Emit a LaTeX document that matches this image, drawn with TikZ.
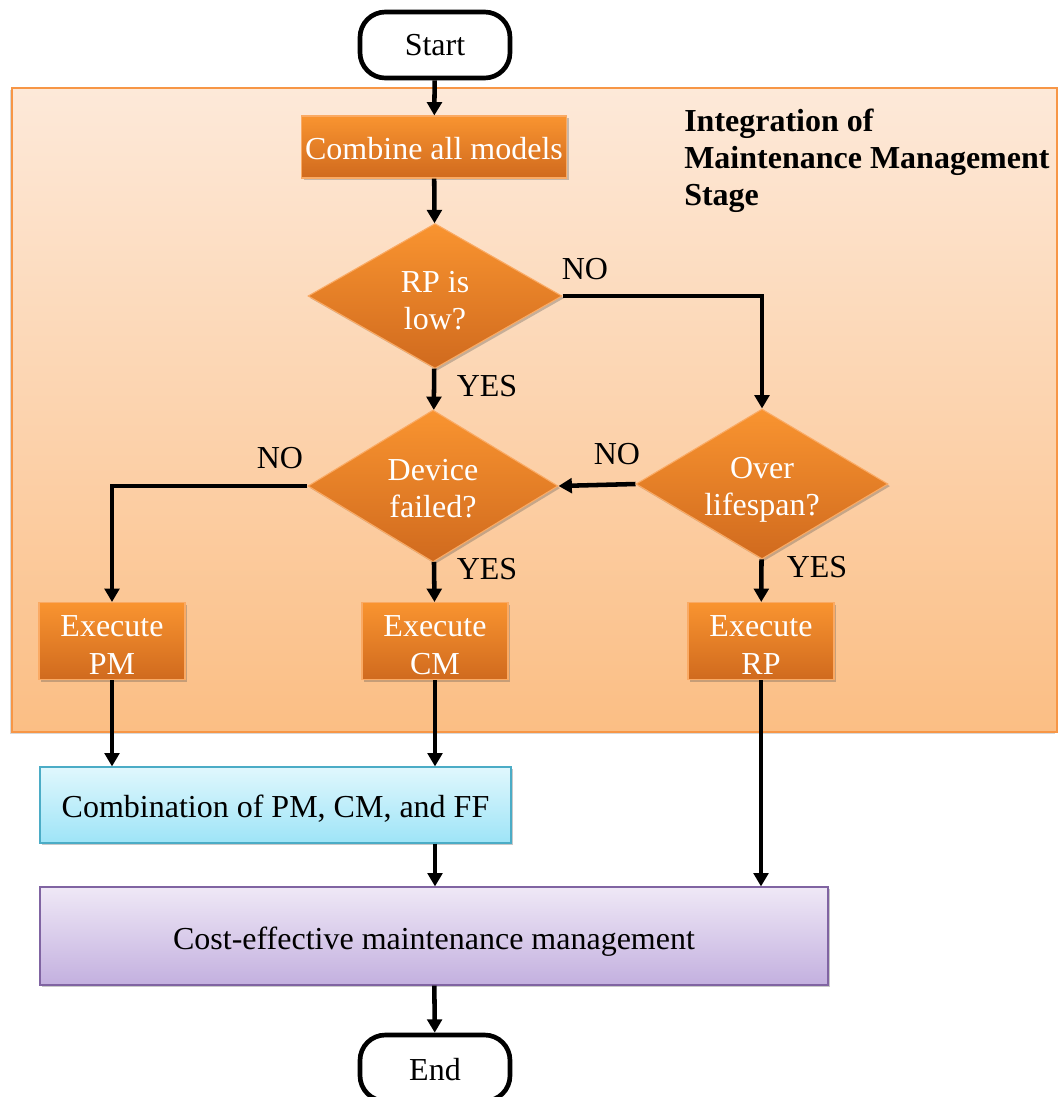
\documentclass[tikz,border=0pt]{standalone}
\usepackage{fontspec}
\setmainfont{Liberation Serif}
\usetikzlibrary{shapes.geometric,arrows.meta,shadows,calc}

\definecolor{bgtop}{RGB}{253,233,217}
\definecolor{bgbot}{RGB}{251,190,132}
\definecolor{bgline}{RGB}{247,150,70}
\definecolor{ortop}{RGB}{249,148,48}
\definecolor{orbot}{RGB}{208,106,30}
\definecolor{orline}{RGB}{250,170,100}
\definecolor{cytop}{RGB}{224,247,253}
\definecolor{cybot}{RGB}{158,228,247}
\definecolor{cyline}{RGB}{75,172,198}
\definecolor{pptop}{RGB}{239,232,246}
\definecolor{ppbot}{RGB}{195,176,223}
\definecolor{ppline}{RGB}{128,100,162}

% invisible strut that sets the height of a text's first line
\newcommand\lineup[1]{\rule{0pt}{#1}}

\tikzset{
  txt/.style={font=\fontsize{24pt}{28pt}\selectfont},
  terminal/.style={txt, draw=black, line width=3.5pt, fill=white, rounded corners=19pt,
    minimum width=112.5pt, minimum height=49.5pt, inner sep=0pt},
  shade/.style={drop shadow={shadow xshift=1.6pt, shadow yshift=-1.6pt, opacity=0.3, fill=black!70}},
  orangebox/.style={txt, shade, text=white, top color=ortop, bottom color=orbot,
    draw=orline, line width=0.8pt, align=center, inner sep=0pt},
  orangediamond/.style={orangebox, diamond, aspect=1.7},
  cyanbox/.style={txt, shade, top color=cytop, bottom color=cybot, draw=cyline,
    line width=0.9pt, align=center, inner sep=0pt},
  purplebox/.style={txt, shade, top color=pptop, bottom color=ppbot, draw=ppline,
    line width=0.9pt, align=center, inner sep=0pt},
  flow/.style={line width=3.4pt, -{Triangle[width=11pt,length=10pt]}},
  lbl/.style={txt, inner sep=0pt}
}

\begin{document}
\begin{tikzpicture}[x=0.75pt, y=-0.75pt]
\useasboundingbox (0,0) rectangle (1059,1097);

% stage background
\path[drop shadow={shadow xshift=-1.6pt, shadow yshift=-1.6pt, opacity=0.25, fill=black!60},
  top color=bgtop, bottom color=bgbot, draw=bgline, line width=1pt]
  (12,88) rectangle (1057,732);
\node[txt, font=\fontsize{24pt}{27.8pt}\selectfont\bfseries, align=left, anchor=north west, inner sep=0pt]
  (stage) at (684,109) {Integration of\\Maintenance Management\\Stage};

% nodes
\node[terminal] (start) at (435,45) {Start};
\node[orangebox, minimum width=198.75pt, minimum height=46.5pt] (combine) at (434,147) {\lineup{19.4pt}Combine all models};
\node[orangediamond, minimum width=190.5pt, minimum height=108.75pt] (rplow) at (435,296) {\lineup{22.7pt}RP is\\low?};
\node[orangediamond, minimum width=187.5pt, minimum height=114pt] (failed) at (433,486) {\lineup{20.2pt}Device\\failed?};
\node[orangediamond, minimum width=189pt, minimum height=112.5pt] (over) at (762,484) {\lineup{25pt}Over\\lifespan?};
\node[orangebox, minimum width=109.5pt, minimum height=57.75pt] (pm) at (112,641) {\lineup{21.9pt}Execute\\PM};
\node[orangebox, minimum width=109.5pt, minimum height=57.75pt] (cm) at (435,641) {\lineup{21.9pt}Execute\\CM};
\node[orangebox, minimum width=109.5pt, minimum height=57.75pt] (rp) at (761,641) {\lineup{21.9pt}Execute\\RP};
\node[cyanbox, minimum width=353.25pt, minimum height=57pt] (comb) at (275.5,805) {\lineup{22.4pt}Combination of PM, CM, and FF};
\node[purplebox, minimum width=591pt, minimum height=73.5pt] (cost) at (434,936) {\lineup{25.4pt}Cost-effective maintenance management};
\node[terminal] (end) at (435,1068) {\lineup{19.4pt}End};

% connectors
\draw[flow] (start) -- (combine);
\draw[flow] (combine) -- (rplow);
\draw[flow] (rplow.east) -| (over.north);
\draw[flow] (rplow) -- (failed);
\draw[flow] (over.west) -- (failed.east);
\draw[flow] (failed.west) -| (pm.north);
\draw[flow] (failed) -- (cm);
\draw[flow] (over) -- (rp);
\draw[flow] (pm) -- (pm |- comb.north);
\draw[flow] (cm) -- (cm |- comb.north);
\draw[flow] (comb.south -| cm) -- (cost.north -| cm);
\draw[flow] (rp) -- (rp |- cost.north);
\draw[flow] (cost) -- (end);

% branch labels
\node[lbl] (no1) at (585,269) {NO};
\node[lbl] (yes1) at (487,386) {YES};
\node[lbl] (no2) at (280,458) {NO};
\node[lbl] (no3) at (617,454) {NO};
\node[lbl] (yes2) at (487,569) {YES};
\node[lbl] (yes3) at (817,567) {YES};
\end{tikzpicture}
\end{document}
